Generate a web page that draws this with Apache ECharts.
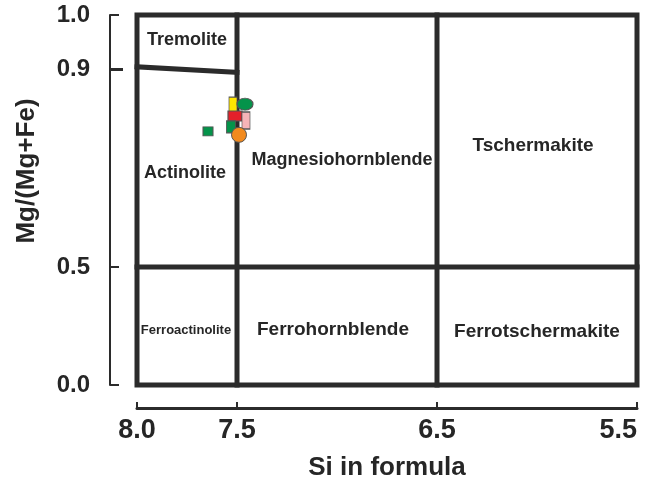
<!DOCTYPE html>
<html>
<head>
<meta charset="utf-8">
<script src="https://cdn.jsdelivr.net/npm/echarts@6/dist/echarts.min.js"></script>
<style>
  html, body { margin: 0; padding: 0; background: #fff; }
  #chart { width: 654px; height: 483px; }
</style>
</head>
<body>
<div id="chart"></div>
<script>
// Amphibole classification (Si vs Mg/(Mg+Fe)) with sample analyses.

// Axis ticks
const siTicks = [8.0, 7.5, 6.5, 5.5];
const mgTicks = [0.0, 0.5, 0.9, 1.0];

// Mg/(Mg+Fe) axis is stretched piecewise: [value, axis units]
const mgScaleKnots = [[0.0, 0], [0.5, 118], [0.9, 316], [1.0, 370]];

// Field boundaries as [Si, Mg/(Mg+Fe)]
const boundaryFrame = [[8.0, 0.0], [5.5, 0.0], [5.5, 1.0], [8.0, 1.0], [8.0, 0.0]];
const boundarySi75 = [[7.5, 0.0], [7.5, 1.0]];
const boundarySi65 = [[6.5, 0.0], [6.5, 1.0]];
const boundaryMg05 = [[8.0, 0.5], [5.5, 0.5]];
const boundaryTremolite = [[8.0, 0.904], [7.5, 0.893]];

// Field names and where they sit [name, Si, Mg/(Mg+Fe)]
const fieldNames = ['Tremolite', 'Actinolite', 'Magnesiohornblende', 'Tschermakite',
                    'Ferroactinolite', 'Ferrohornblende', 'Ferrotschermakite'];
const fieldSi = [7.75, 7.76, 6.975, 6.02, 7.755, 7.02, 6.0];
const fieldMg = [0.954, 0.69, 0.716, 0.744, 0.233, 0.233, 0.225];

// Sample analyses
const sampleSi = [7.645, 7.52, 7.51, 7.46, 7.455, 7.53, 7.49];
const sampleMg = [0.774, 0.828, 0.805, 0.829, 0.796, 0.783, 0.767];

// Label size per field
const fieldFontSize = [18, 18, 18, 19, 13, 19, 19];

// Marker styling per sample
const sampleStyle = [
  { symbol: 'rect', size: [10, 9], color: '#05934a' },
  { symbol: 'rect', size: [8, 15], color: '#ffe600' },
  { symbol: 'rect', size: [14, 10], color: '#e3202a' },
  { symbol: 'path://M0 50A50 50 0 1 1 100 50A50 50 0 1 1 0 50Z', size: [16, 12], color: '#05934a' },
  { symbol: 'rect', size: [8, 17], color: '#f6b4b8' },
  { symbol: 'rect', size: [9, 12], color: '#05934a' },
  { symbol: 'circle', size: 15, color: '#f28a1e' }
];

function toAxis(v) {
  for (let i = 1; i < mgScaleKnots.length; i++) {
    const a = mgScaleKnots[i - 1], b = mgScaleKnots[i];
    if (v <= b[0] || i === mgScaleKnots.length - 1) {
      return a[1] + (v - a[0]) * (b[1] - a[1]) / (b[0] - a[0]);
    }
  }
}
function fromAxisLabel(d) {
  for (const t of mgTicks) {
    if (Math.abs(toAxis(t) - d) < 0.01) return t.toFixed(1);
  }
  return '';
}

const INK = '#2b2b2b';
const TEXT = '#262626';
const FONT = '"Liberation Sans", Arial, sans-serif';

function boundarySeries(pts) {
  return {
    type: 'line',
    data: pts.map(p => [p[0], toAxis(p[1])]),
    symbol: 'none',
    silent: true,
    clip: false,
    z: 2,
    lineStyle: { color: INK, width: 5, cap: 'square', join: 'miter' }
  };
}

const series = [
  boundarySeries(boundaryFrame),
  boundarySeries(boundarySi75),
  boundarySeries(boundarySi65),
  boundarySeries(boundaryMg05),
  boundarySeries(boundaryTremolite),
  {
    type: 'scatter',
    symbolSize: 1,
    silent: true,
    z: 3,
    itemStyle: { opacity: 1, color: 'rgba(0,0,0,0)' },
    data: fieldNames.map((n, i) => ({
      name: n,
      value: [fieldSi[i], toAxis(fieldMg[i])],
      label: { fontSize: fieldFontSize[i] }
    })),
    label: {
      show: true,
      position: 'inside',
      formatter: p => p.name,
      fontFamily: FONT,
      fontWeight: 'bold',
      color: TEXT,
      opacity: 1
    }
  }
];

sampleSi.forEach((si, i) => {
  const s = sampleStyle[i];
  series.push({
    type: 'scatter',
    z: 5,
    symbol: s.symbol,
    symbolSize: s.size,
    symbolKeepAspect: false,
    clip: false,
    itemStyle: { color: s.color, borderColor: '#555', borderWidth: 1, opacity: 1 },
    data: [[si, toAxis(sampleMg[i])]]
  });
});

const chart = echarts.init(document.getElementById('chart'), null, { renderer: 'canvas' });
chart.setOption({
  animation: false,
  backgroundColor: '#ffffff',
  grid: { left: 137, right: 17, top: 15, bottom: 98, containLabel: false, outerBoundsMode: 'none' },
  xAxis: {
    type: 'value',
    min: 5.5,
    max: 8.0,
    inverse: true,
    position: 'bottom',
    offset: 23,
    name: 'Si in formula',
    nameLocation: 'middle',
    nameGap: 47,
    nameTextStyle: { fontFamily: FONT, fontWeight: 'bold', fontSize: 26, color: TEXT },
    axisLine: { show: true, onZero: false, lineStyle: { color: INK, width: 3 } },
    axisTick: { show: true, inside: true, length: 6, customValues: siTicks, lineStyle: { color: INK, width: 2 } },
    axisLabel: {
      customValues: siTicks,
      formatter: v => v.toFixed(1),
      fontFamily: FONT, fontWeight: 'bold', fontSize: 27, color: TEXT,
      margin: 9,
      alignMaxLabel: 'right'
    },
    splitLine: { show: false }
  },
  yAxis: [
    {
      type: 'value',
      min: 0,
      max: 370,
      position: 'left',
      offset: 27,
      axisLine: { show: true, onZero: false, lineStyle: { color: INK, width: 2 } },
      axisTick: { show: true, inside: true, length: 9, customValues: mgTicks.map(toAxis), lineStyle: { color: INK, width: 2 } },
      axisLabel: {
        customValues: mgTicks.map(toAxis),
        formatter: fromAxisLabel,
        fontFamily: FONT, fontWeight: 'bold', fontSize: 24, color: TEXT,
        margin: 20
      },
      splitLine: { show: false }
    },
    {
      type: 'value',
      min: 0,
      max: 370,
      position: 'left',
      offset: 27,
      axisLine: { show: false, onZero: false },
      axisTick: { show: true, inside: true, length: 13, customValues: [toAxis(0.9)], lineStyle: { color: INK, width: 3 } },
      axisLabel: { show: false },
      splitLine: { show: false }
    }
  ],
  graphic: [{
    type: 'text',
    x: 27,
    y: 171,
    rotation: Math.PI / 2,
    style: {
      text: 'Mg/(Mg+Fe)',
      font: 'bold 26px ' + FONT,
      fill: TEXT,
      align: 'center',
      verticalAlign: 'middle'
    }
  }],
  series: series
});
</script>
</body>
</html>
